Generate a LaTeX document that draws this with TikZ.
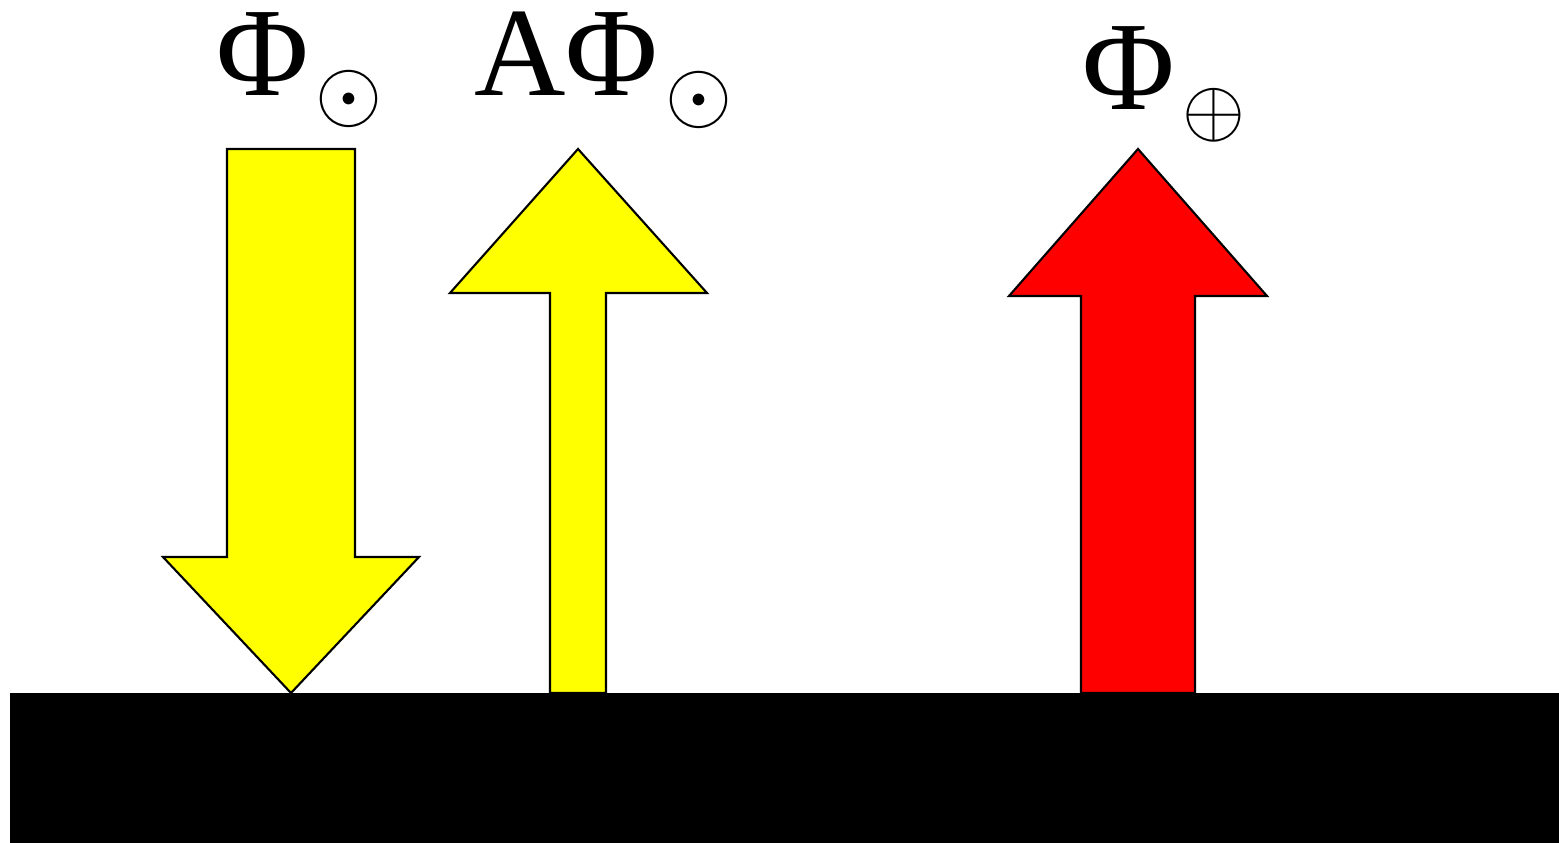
\documentclass[tikz,border=0pt]{standalone}
\usepackage{fix-cm}
\usepackage{fontspec}
\setmainfont{Liberation Serif}
\usepackage{xcolor}
\usepackage{tikz}

\definecolor{arrYellow}{RGB}{255,255,0}
\definecolor{arrRed}{RGB}{255,0,0}

\begin{document}
\begin{tikzpicture}[x=0.01cm,y=-0.01cm,every node/.style={inner sep=0pt,outer sep=0pt},lbl/.style={anchor=base,font=\fontsize{36}{40}\selectfont},sub/.style={anchor=center,font=\fontsize{24.5}{28}\selectfont},arr/.style={draw=black,line width=0.6pt,line join=miter}]
\useasboundingbox (0,0) rectangle (1559,843);

\fill[black] (10,693) rectangle (1559,843);

\draw[arr,fill=arrYellow] (227,149) -- (355,149) -- (355,557) -- (419,557) -- (291,693) -- (163,557) -- (227,557) -- cycle;
\draw[arr,fill=arrYellow] (550,693) -- (550,293) -- (450,293) -- (578,149) -- (707,293) -- (606,293) -- (606,693) -- cycle;
\draw[arr,fill=arrRed] (1081,693) -- (1081,296) -- (1009,296) -- (1138,149) -- (1267,296) -- (1195,296) -- (1195,693) -- cycle;

\node[lbl] (phi1) at (263,96) {Φ};
\node[sub] (dot1) at (349,99) {$\odot$};
\node[lbl] (aphi) at (566,96) {AΦ};
\node[sub] (dot2) at (699,100) {$\odot$};
\node[lbl] (phi2) at (1129,110) {Φ};
\node[sub,font=\fontsize{23}{26}\selectfont] (plus) at (1214,115) {$\oplus$};

\end{tikzpicture}
\end{document}
